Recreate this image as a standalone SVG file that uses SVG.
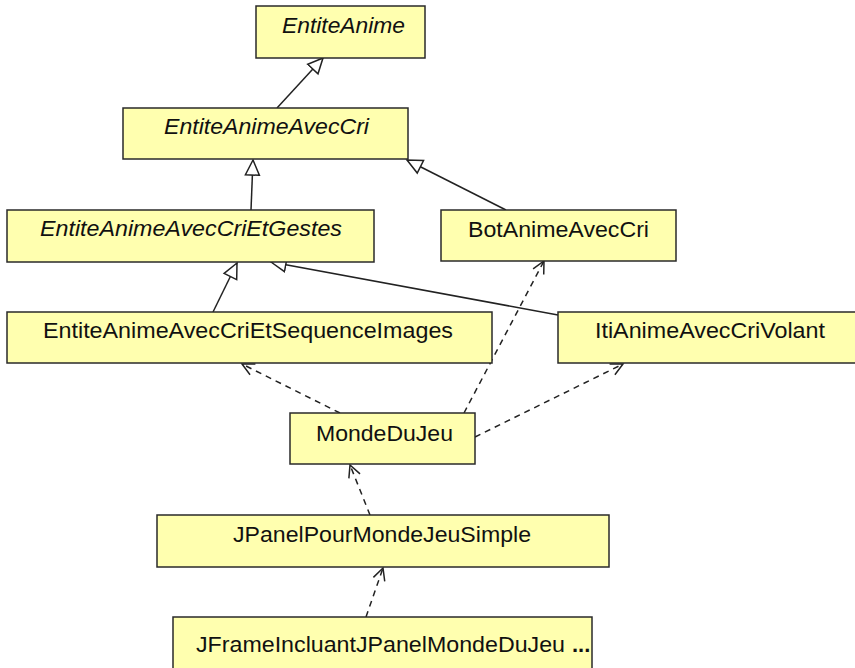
<svg xmlns="http://www.w3.org/2000/svg" width="855" height="668" viewBox="0 0 855 668">
<style>
.box{fill:#FFFFAF;stroke:#2a2a2a;stroke-width:1.5}
.t{font-family:"Liberation Sans",Arial,sans-serif;font-size:22px;fill:#111}
.i{font-style:italic}
.gen{fill:none;stroke:#222;stroke-width:1.5}
.dep{fill:none;stroke:#222;stroke-width:1.5;stroke-dasharray:6,5}
</style>
<defs>
<marker id="tri" viewBox="-16 -10 20 20" markerWidth="20" markerHeight="20" refX="0" refY="0" orient="auto" markerUnits="userSpaceOnUse">
<path d="M0,0 L-15,-7 L-15,7 Z" fill="#fff" stroke="#222" stroke-width="1.5"/>
</marker>
<marker id="open" viewBox="-16 -10 20 20" markerWidth="20" markerHeight="20" refX="0" refY="0" orient="auto" markerUnits="userSpaceOnUse">
<path d="M-12,-6 L0,0 L-12,6" fill="none" stroke="#222" stroke-width="1.5"/>
</marker>
</defs>
<rect width="855" height="668" fill="#fff"/>
<g id="connectors">
<line class="gen" x1="277" y1="108" x2="323" y2="58" marker-end="url(#tri)"/>
<line class="gen" x1="251" y1="210" x2="253" y2="160" marker-end="url(#tri)"/>
<line class="gen" x1="506" y1="210" x2="407" y2="160" marker-end="url(#tri)"/>
<line class="gen" x1="213" y1="312" x2="237" y2="263" marker-end="url(#tri)"/>
<line class="gen" x1="558" y1="315" x2="271" y2="262" marker-end="url(#tri)"/>
<line class="dep" x1="340" y1="413" x2="242" y2="364" marker-end="url(#open)"/>
<line class="dep" x1="464" y1="413" x2="544" y2="261" marker-end="url(#open)"/>
<line class="dep" x1="475" y1="437" x2="623" y2="364" marker-end="url(#open)"/>
<line class="dep" x1="370" y1="515" x2="350" y2="465" marker-end="url(#open)"/>
<line class="dep" x1="366" y1="617" x2="383" y2="568" marker-end="url(#open)"/>
</g>
<g id="EntiteAnime">
<rect class="box" x="256" y="6" width="169" height="52"/>
<text class="t i" x="282" y="33" textLength="123" lengthAdjust="spacingAndGlyphs">EntiteAnime</text>
</g>
<g id="EntiteAnimeAvecCri">
<rect class="box" x="123" y="108" width="285" height="51"/>
<text class="t i" x="164" y="134" textLength="205" lengthAdjust="spacingAndGlyphs">EntiteAnimeAvecCri</text>
</g>
<g id="EntiteAnimeAvecCriEtGestes">
<rect class="box" x="7" y="210" width="367" height="52"/>
<text class="t i" x="40" y="236" textLength="302" lengthAdjust="spacingAndGlyphs">EntiteAnimeAvecCriEtGestes</text>
</g>
<g id="BotAnimeAvecCri">
<rect class="box" x="441" y="210" width="235" height="51"/>
<text class="t" x="468" y="237" textLength="181" lengthAdjust="spacingAndGlyphs">BotAnimeAvecCri</text>
</g>
<g id="EntiteAnimeAvecCriEtSequenceImages">
<rect class="box" x="7" y="312" width="485" height="51"/>
<text class="t" x="43" y="338" textLength="410" lengthAdjust="spacingAndGlyphs">EntiteAnimeAvecCriEtSequenceImages</text>
</g>
<g id="ItiAnimeAvecCriVolant">
<rect class="box" x="558" y="312" width="310" height="51"/>
<text class="t" x="595" y="338" textLength="230" lengthAdjust="spacingAndGlyphs">ItiAnimeAvecCriVolant</text>
</g>
<g id="MondeDuJeu">
<rect class="box" x="290" y="413" width="185" height="51"/>
<text class="t" x="316" y="441" textLength="137" lengthAdjust="spacingAndGlyphs">MondeDuJeu</text>
</g>
<g id="JPanelPourMondeJeuSimple">
<rect class="box" x="157" y="515" width="452" height="52"/>
<text class="t" x="233" y="542" textLength="298" lengthAdjust="spacingAndGlyphs">JPanelPourMondeJeuSimple</text>
</g>
<g id="JFrameIncluantJPanelMondeDuJeu">
<rect class="box" x="173" y="617" width="419" height="60"/>
<text class="t" x="196" y="652" textLength="369" lengthAdjust="spacingAndGlyphs">JFrameIncluantJPanelMondeDuJeu</text>
<text class="t" x="572" y="652" font-weight="bold">...</text>
</g>
</svg>
